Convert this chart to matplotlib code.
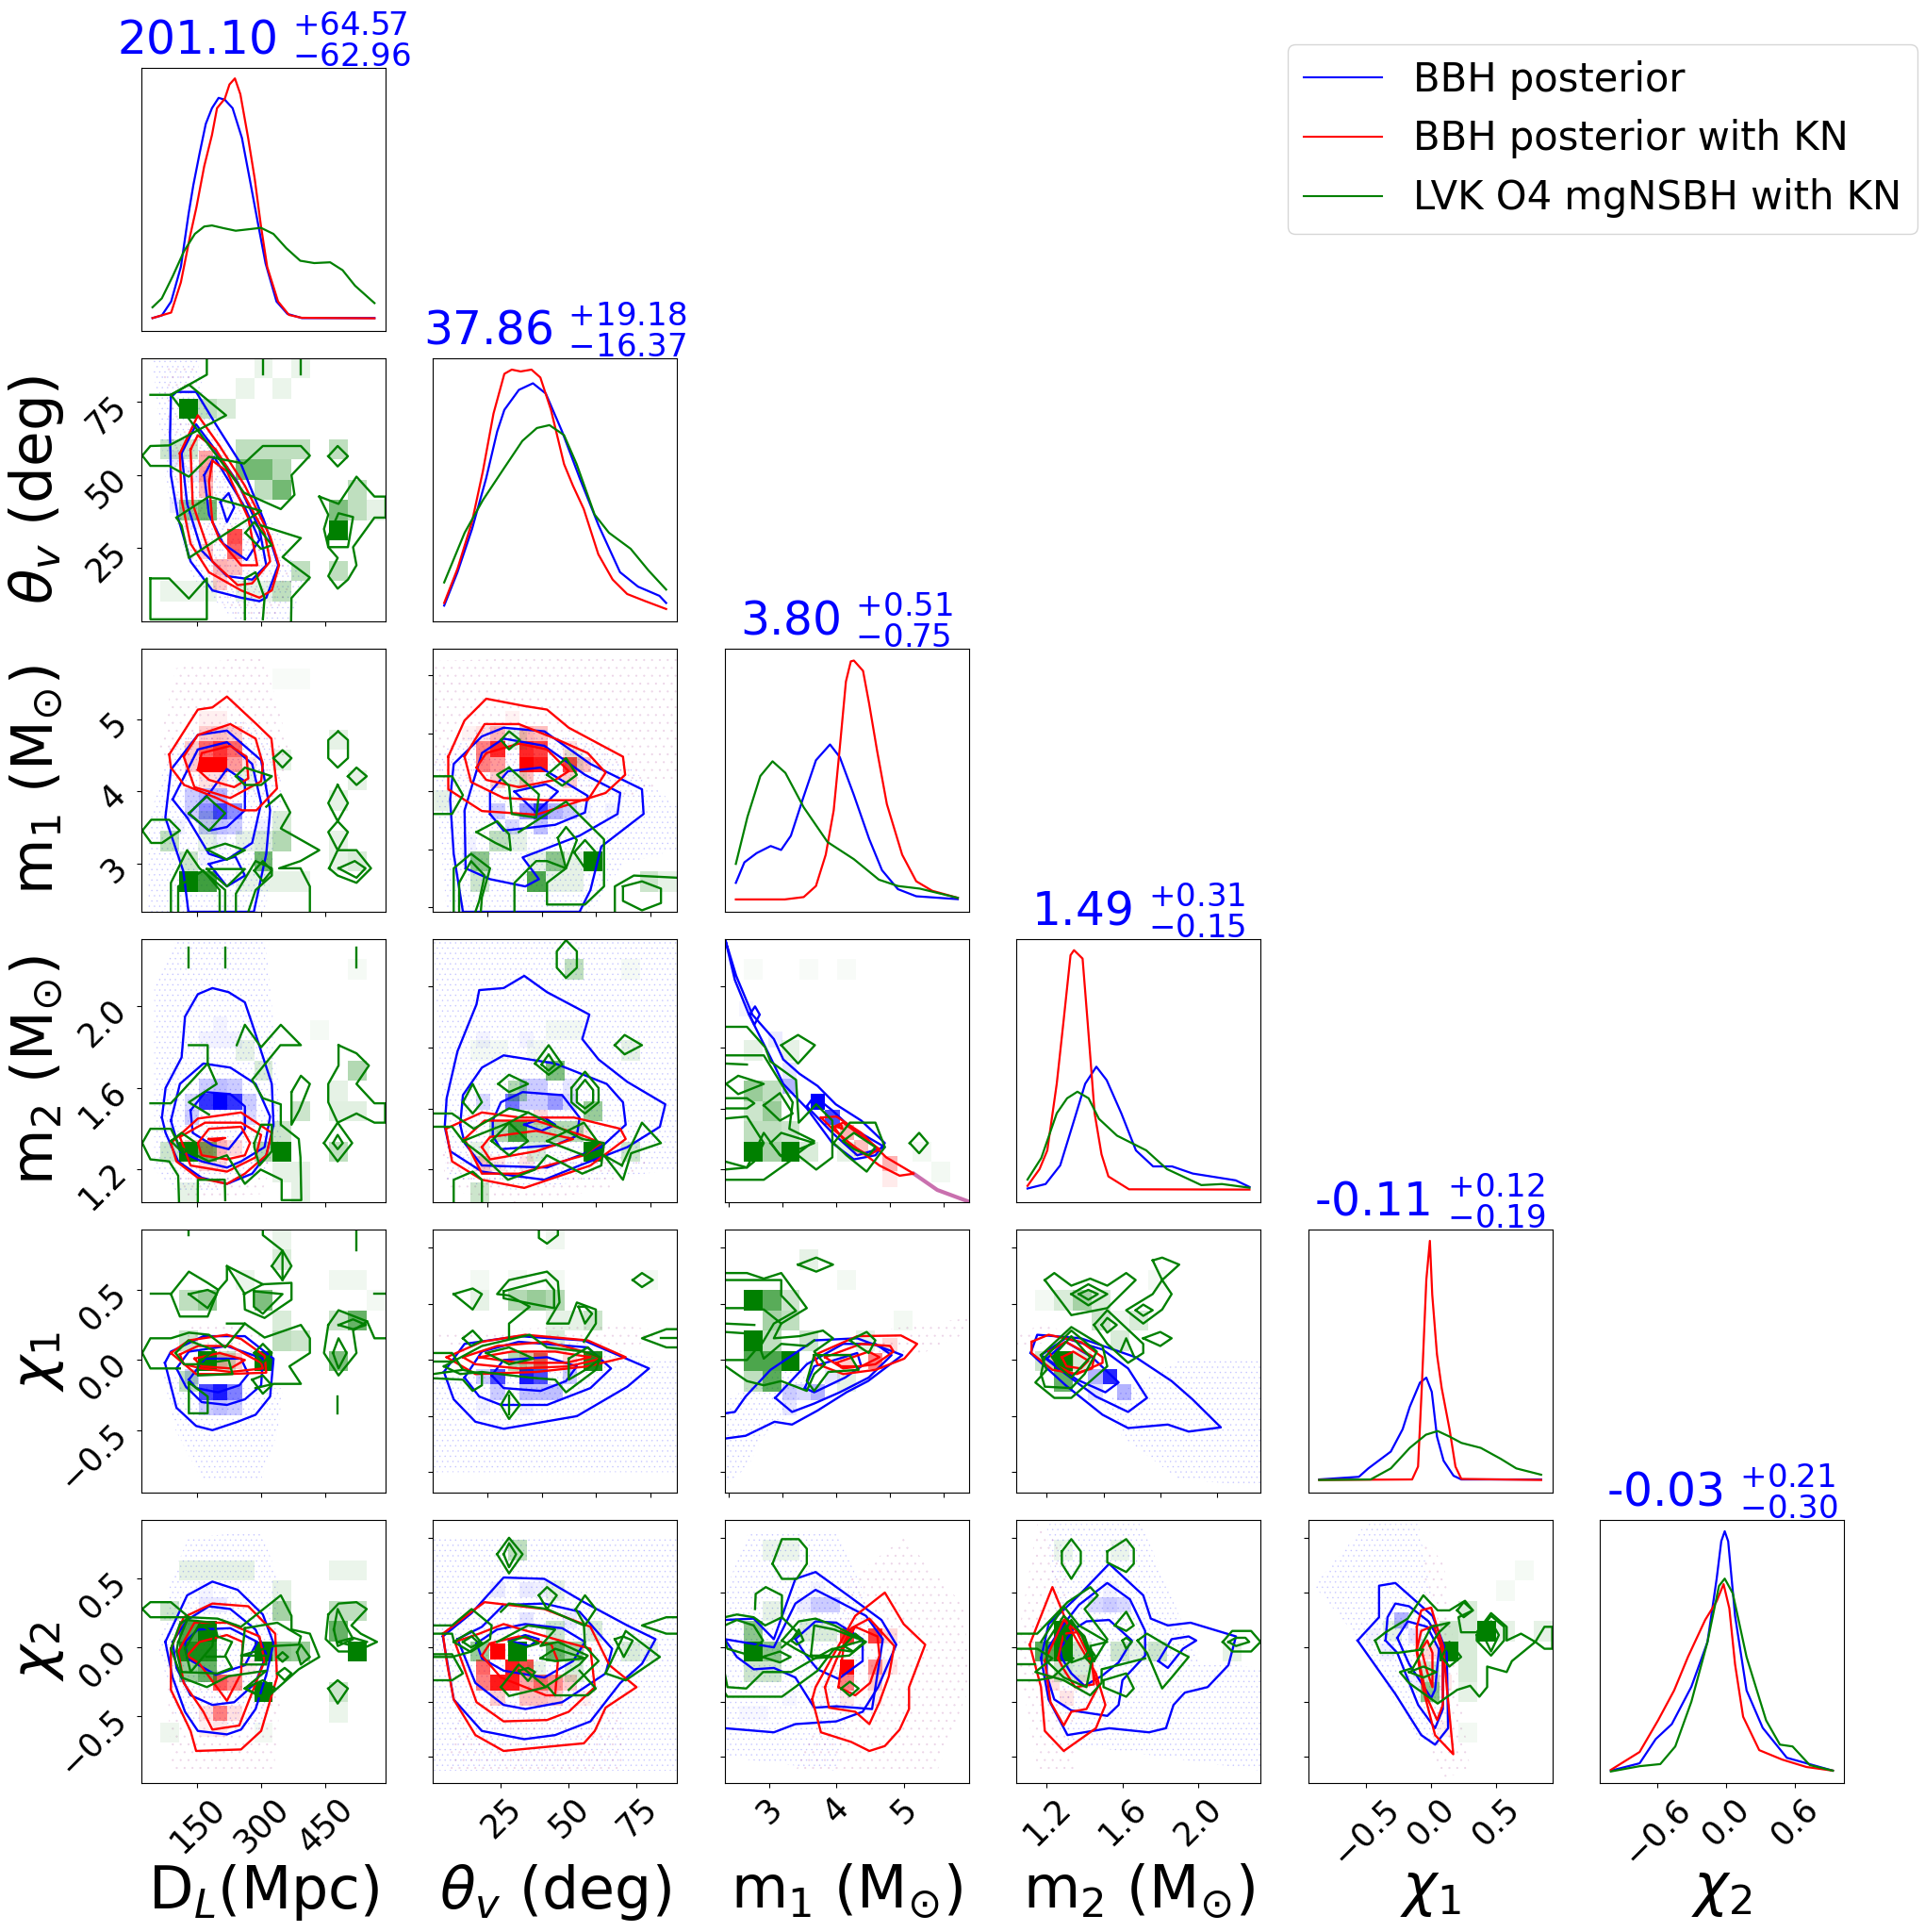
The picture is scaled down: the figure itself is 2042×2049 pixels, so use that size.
import matplotlib
matplotlib.use("Agg")
import matplotlib.pyplot as plt
from matplotlib.colors import LinearSegmentedColormap
from matplotlib.lines import Line2D

# axis ranges
dl_lim = (20, 591)
th_lim = (0, 90)
m1_lim = (2.34, 5.97)
m2_lim = (1.04, 2.33)
c1_lim = (-0.945, 0.93)
c2_lim = (-0.99, 0.93)

names = ["D$_L$(Mpc)", r"$\theta_v$ (deg)", r"m$_1$ (M$_{\odot}$)", r"m$_2$ (M$_{\odot}$)", r"$\chi_1$", r"$\chi_2$"]
titles = [("201.10", "64.57", "62.96"), ("37.86", "19.18", "16.37"), ("3.80", "0.51", "0.75"),
          ("1.49", "0.31", "0.15"), ("-0.11", "0.12", "0.19"), ("-0.03", "0.21", "0.30")]

# 1d curves (y is the height in the unlabelled density axis)
dl_x_b = [20,44,68,93,113,125,141,157,173,190,206,226,250,270,291,311,339,367,404,460,591]
dl_b = [4.9,5.9,11.2,24.4,44.7,55.4,67.4,78.7,84.7,88.6,87.9,84.7,73.4,57.8,41.1,25.6,11.2,6.5,4.9,4.9,4.9]
dl_x_r = [20,68,93,117,133,153,173,186,206,218,232,246,266,283,299,315,343,371,404,591]
dl_r = [4.9,7,18.5,36.3,47,62.6,74.5,84.7,88.3,93.7,96,90,73.4,57.8,39.9,24.4,11.2,6.1,5,4.8]
dl_x_g = [20,44,72,101,129,153,173,202,234,270,299,331,364,400,436,477,509,541,591]
dl_g = [9,12.4,20.8,30.3,36.9,39.7,40.1,39.1,38.1,38.7,39.2,36.9,31.5,26.7,25.8,26.1,23.1,17.2,10.6]

th_x_b = [0,5.4,11.3,17,21.5,24.4,30.3,36,41.2,47.8,55,62.6,71.3,78.6,87.3,90]
th_b = [6,18.7,35.1,54.3,72.2,80.4,88,90.5,86.6,72.2,54.3,36.5,18.7,13.2,9.7,7]
th_x_r = [0,5.4,11.3,15.7,20,24.4,27.4,31,35.4,39,43.3,48.6,52.2,56.6,62.5,68.3,74.2,81.5,90]
th_r = [7,20,37.9,57.1,79,94.1,95.7,95,95.7,92.7,80.4,59.8,51.6,42.7,25.5,15.9,10.4,7.7,4.7]
th_x_g = [0,8.3,15.7,24.4,31.7,37.6,42.7,48.6,53.7,61,66.8,75.6,82.9,90]
th_g = [14.8,33.7,46.1,58.4,68.6,73.5,74.6,70.8,59.8,40.6,33.7,27.6,19.3,12.1]

m1_x_b = [2.34,2.48,2.68,2.91,3.08,3.24,3.44,3.65,3.88,4.04,4.27,4.52,4.73,4.99,5.29,5.97]
m1_b = [11,18.8,22.3,25,23.5,28.9,43.2,57.6,63.6,58.8,44.4,27.7,15.8,8.6,5.9,4.8]
m1_x_r = [2.34,3.14,3.45,3.65,3.81,3.94,4.04,4.14,4.22,4.27,4.42,4.52,4.65,4.81,5.06,5.29,5.55,5.97]
m1_r = [4.7,4.7,5.6,9.8,21.7,38.5,62.4,87.5,95.2,95.5,91.6,79.1,61.2,40.9,21.7,11.6,8,5.3]
m1_x_g = [2.34,2.53,2.74,2.94,3.15,3.45,3.84,4.27,4.68,4.99,5.35,5.97]
m1_g = [18.2,36.1,51.6,57.2,52.8,39.7,26.5,20,12.2,9.8,8.8,5.3]

m2_x_b = [1.04,1.145,1.23,1.31,1.375,1.44,1.5,1.585,1.67,1.77,1.88,2.0,2.25,2.33]
m2_b = [5.2,6.9,14,31,45,51.5,46.4,33.8,19.7,13.6,13.6,10.9,8.3,5.8]
m2_x_r = [1.04,1.11,1.155,1.21,1.25,1.29,1.31,1.36,1.39,1.43,1.47,1.51,1.63,2.33]
m2_r = [6.2,12.6,19.7,45.1,69.2,93.9,95.8,92.6,67.9,33.8,18.2,9.8,4.9,4.8]
m2_x_g = [1.04,1.12,1.21,1.27,1.33,1.395,1.455,1.56,1.73,1.85,2.05,2.17,2.33]
m2_g = [8.6,16.8,33.8,39.5,42,39.5,31.7,25.3,19.7,12.6,6.5,6.9,5.5]

c1_x_b = [-.945,-.61,-.53,-.34,-.24,-.18,-.094,-.04,.006,.05,.106,.19,.256,.93]
c1_b = [5,6,9.2,15.6,24.1,32.6,41.8,43.7,38.3,21.3,12.1,6.4,5,5]
c1_x_r = [-.945,-.16,-.11,-.08,-.04,-.01,.01,.05,.09,.156,.206,.256,.93]
c1_r = [4.8,5,9.9,38.3,80.9,95.7,75.2,52.5,39.7,24.1,9.9,5.2,4.8]
c1_x_g = [-.945,-.51,-.34,-.18,-.044,.056,.156,.256,.42,.59,.72,.93]
c1_g = [4.8,5,9.2,17,22,23.4,21.3,18.9,17,12.8,9.2,6.8]

c2_x_b = [-1.0,-.75,-.61,-.47,-.3,-.16,-.08,-.04,-.01,.02,.08,.18,.32,.53,.93]
c2_b = [4.7,7.5,16.7,22.4,36.6,53.6,77.7,91.9,95.7,91.9,63.5,35.2,21,9.6,4.7]
c2_x_r = [-1.0,-.75,-.59,-.45,-.33,-.18,-.08,-.02,.03,.08,.15,.29,.49,.7,.93]
c2_r = [5,11.8,23.8,35.2,47.9,62,69.1,75.6,66.4,45.1,25.2,12.5,8.9,6.1,4.7]
c2_x_g = [-1.0,-.75,-.57,-.44,-.3,-.16,-.06,-.01,.06,.18,.35,.47,.58,.73,.93]
c2_g = [4.4,6.4,7.2,13.9,30.9,53.6,74.9,77.7,72.1,47.9,23.8,14.6,13.9,6.8,4.7]

# theta vs DL
thdl_cloud_b = [(45,90),(150,90),(170,75),(210,60),(300,40),(400,15),(370,0),(240,0),(140,15),(80,45)]
thdl_cloud_r = [(70,88),(140,88),(160,72),(280,40),(380,14),(340,1),(240,1),(140,18),(90,45)]
thdl_b = [
 [(89,76.7),(102,78.5),(148,78.5),(194,67.4),(253,53.8),(308,34),(340,19.2),(312,8.1),(296,6.9),(253,8.1),(186,10.6),(135,20.5),(106,35.3),(89,50),(87,63.7)],
 [(114,57.5),(148,67.4),(186,60),(245,47.6),(296,31.6),(312,19.2),(279,14.3),(220,15.5),(161,24.2),(127,40.2)],
 [(167,50),(190,56.3),(262,39),(296,27.9),(266,21),(211,26.6),(178,36.5)],
 [(205,40.8),(224,43.9),(237,39),(220,34)]]
thdl_r = [
 [(110,57.5),(152,70.5),(203,60),(262,46.4),(321,29.1),(342,19.2),(325,10.6),(296,8.1),(253,10.6),(178,16.8),(135,26.6),(114,41.5)],
 [(135,58.8),(152,63.7),(194,58.8),(253,45.2),(308,30.3),(321,20.5),(279,13),(245,12.4),(186,20.5),(140,40.2)],
 [(186,34),(178,47.6),(186,55),(220,51.3),(270,35.3),(291,19.2),(253,19.2),(203,27.9)]]
thdl_g = [
 [(89,77.5),(131,81),(218,70.5),(85,60.2),(41,60),(22,56.7),(41,53.2),(85,53.2),(131,49.5),(178,56.3),(260,54),(304,60),(393,60),(414,56.7),(371,50),(378,43.3),(346,38.4),(260,44),(215,53)],
 [(102,35.5),(178,42.7),(300,37.8),(220,30.3),(131,21.7),(114,32.8)],
 [(41,14.7),(85,14.7),(131,7.8),(173,14.7),(173,.7),(41,.7)],
 [(436,42.7),(481,40.2),(523,49.5),(565,42.7),(591,42.7),(591,35.5),(565,35.5),(515,25.4),(523,19.2),(503,14.3),(479,11.2),(457,15.5),(479,21.7),(457,25.4),(447,31.6),(457,36.5)],
 [(457,56.5),(479,60),(503,56.5),(479,53)],
 [(457,29),(481,37),(515,35.7),(503,25.4),(457,25.4)],
 [(263,30.3),(284,34),(325,26),(300,24.8)]]
thdl_g_open = [
 [(41,77.5),(89,77.5),(173,84.4),(173,90)],
 [(300,32.8),(393,28.5),(350,22),(414,15),(371,8),(370,0)],
 [(262,.7),(262,14.7),(287,16.8),(308,8),(304,.7)],
 [(304,90),(304,84.4)],[(392,90),(392,84.4)]]
thdl_cells_g = [(130,71,1),(479,28,1),(304,49.5,.55),(262,49.5,.55),(346,43.3,.55),(262,56.5,.25),(304,56.5,.25),(346,56.5,.25),(390,56.5,.25),
 (173,35,.55),(130,35,.4),(479,35,.5),(479,56.5,.25),(523,42,.25),(565,35,.1),(523,35,.25),(479,14,.25),(350,7,.25),(85,7,.08),(130,7,.08),(173,7,.08),
 (85,56,.2),(130,56,.2),(304,84,.08),(262,77,.08),(346,77,.08),(392,84,.08),(218,70,.15),(173,71,.25),(393,14,.25),(346,49.5,.3),(304,42.5,.25),(304,7,.1),(262,7,.1)]
thdl_cells_b = [(130,49,.08),(110,56,.08),(110,42,.08),(150,35,.08)]
thdl_cells_r = [(224,26,.6),(249,27,.7),(186,57,.35),(186,50,.4),(204,21,.3),(237,21,.25),(170,26,.2),(186,43,.25),(220,15,.2)]

# m1 vs DL
m1dl_cloud_b = [(34,2.34),(38,3.6),(85,4.6),(130,4.8),(250,5.0),(330,4.7),(350,4.0),(310,2.34)]
m1dl_cloud_r = [(60,4.6),(100,5.7),(300,5.9),(340,5.2),(370,4.4),(330,3.9),(100,4.0)]
m1dl_b = [
 [(130,2.34),(118,2.9),(76,3.64),(89,4.3),(152,4.78),(220,4.84),(300,4.43),(321,3.74),(312,3.14),(283,2.34)],
 [(93,3.89),(152,4.58),(220,4.68),(279,4.38),(300,3.84),(279,3.29),(220,3.06),(178,3.14),(127,3.64)],
 [(131,3.69),(182,4.0),(220,4.31),(262,4.14),(262,3.74),(220,3.51),(178,3.46)],
 [(178,3.0),(220,2.69),(262,2.84),(240,3.1)]]
m1dl_r = [
 [(85,4.51),(152,5.13),(186,5.16),(220,5.31),(289,4.93),(324,4.73),(337,4.04),(289,3.74),(255,3.74),(196,3.91),(120,4.09),(89,4.33)],
 [(119,4.48),(152,4.78),(228,4.93),(287,4.73),(304,4.38),(300,4.14),(228,3.91),(144,4.06)],
 [(152,4.3),(161,4.53),(228,4.63),(266,4.48),(270,4.18),(237,4.06),(178,4.16)]]
m1dl_g = [
 [(22,3.46),(43,3.61),(85,3.61),(110,3.46),(68,3.29),(43,3.29)],
 [(131,3.7),(173,3.93),(216,3.7),(178,3.46)],
 [(241,4.21),(262,4.33),(325,4.21),(300,4.09),(262,4.09)],
 [(329,4.46),(350,4.57),(371,4.46),(350,4.33)],
 [(480,4.83),(503,4.71),(503,4.46),(479,4.33),(457,4.46),(457,4.71)],
 [(503,4.21),(523,4.33),(547,4.21),(523,4.09)],
 [(479,4.09),(503,3.84),(479,3.59),(503,3.44),(479,3.19),(457,3.44),(479,3.59),(457,3.84)],
 [(459,2.94),(479,3.19),(523,3.19),(557,2.94),(523,2.74),(479,2.84)],
 [(481,2.94),(519,3.04),(544,2.94),(523,2.81)],
 [(173,3.2),(216,3.28),(262,3.19),(220,3.06)],
 [(173,2.93),(262,2.93),(220,2.69)],
 [(284,2.91),(304,3.04),(325,2.91),(304,2.76)]]
m1dl_g_open = [
 [(312,3.79),(346,3.96),(368,3.71),(346,3.49),(436,3.19),(392,3.04),(342,2.94),(392,2.94),(414,2.69),(414,2.34)],
 [(89,2.34),(89,2.74),(127,3.19),(156,2.94),(216,2.64),(216,2.34)],
 [(106,2.34),(106,2.69),(165,2.91),(203,2.64),(203,2.34)],
 [(241,2.34),(241,2.59),(287,3.04),(325,2.94),(325,2.84),(287,2.64),(270,2.34)]]
m1dl_cells_g = [(127,2.65,1),(173,2.65,.75),(127,2.93,.2),(304,2.93,.55),(262,2.65,.1),(304,2.65,.1),(350,2.65,.1),(392,2.65,.1),(350,3.2,.3),(304,3.2,.15),(262,3.2,.1),(173,3.2,.1),
 (479,4.6,.1),(479,3.9,.1),(479,3.4,.1),(523,2.93,.15),(479,2.93,.1),(523,4.2,.1),(85,3.45,.25),(350,3.7,.15),(350,4.45,.1),(173,3.7,.1),(262,4.15,.1),(350,5.5,.03),(392,5.5,.03)]
m1dl_cells_r = [(203,4.28,1),(220,4.48,.8),(186,4.48,.6),(250,4.48,.6),(170,4.3,.45),(250,4.28,.4),(220,4.28,.85),(186,4.28,.7),(220,4.7,.25),(186,4.7,.2),(250,4.7,.2),(152,4.5,.2),(152,4.28,.2),(280,4.4,.1),(220,4.95,.06),(186,4.95,.06),(186,4.1,.12),(220,4.1,.12)]
m1dl_cells_b = [(220,3.64,.75),(186,3.65,.45),(253,3.64,.45),(186,3.45,.2),(220,3.45,.25),(150,3.65,.2),(253,3.45,.2),(290,3.6,.06),(120,3.6,.05),(220,3.2,.05),(186,3.0,.05),(220,3.84,.3),(186,3.84,.3),(150,3.84,.2)]

# theta-m1
m1th_cloud_b = [(5,2.34),(0,4.5),(20,4.9),(60,4.7),(90,3.8),(90,3.2),(70,3.0),(58,2.34)]
m1th_cloud_r = [(0,5.8),(90,5.9),(90,4.2),(70,3.9),(0,4.2)]
m1th_b = [
 [(11,2.34),(7.6,3.14),(6.3,3.89),(7.6,4.38),(18,4.76),(26,4.88),(41,4.83),(58,4.38),(77,4.03),(77.6,3.69),(62,3.24),(58,2.64),(56,2.49),(54,2.34)],
 [(12,2.94),(11.6,3.74),(18,4.53),(26,4.73),(41,4.63),(56,4.23),(69,3.98),(68,3.69),(54,3.39),(33,3.09),(39,2.79),(34,2.69),(21,2.79)],
 [(21,3.69),(21,3.99),(27.6,4.28),(39.6,4.33),(57,3.94),(56,3.71),(45,3.54),(26,3.46)],
 [(30,4.0),(41.6,4.1),(46,4.0),(38,3.71)]]
m1th_r = [
 [(5.6,4.48),(11.6,4.98),(19.6,5.28),(33.6,5.18),(42,5.13),(50,4.88),(70,4.48),(70.8,4.23),(63.6,3.98),(38,3.68),(18,3.73),(5.6,4.03)],
 [(11.6,4.48),(19,4.93),(31.6,4.93),(45,4.73),(57,4.53),(63.6,4.26),(57,3.88),(41,3.88),(26,3.91),(14,4.13)],
 [(16,4.33),(19.6,4.53),(31.6,4.66),(42,4.58),(50,4.28),(45,4.16),(31.6,4.06),(19.6,4.16)]]
m1th_g = [
 [(25,4.71),(28,4.83),(32,4.71),(28,4.58)],
 [(42,4.23),(49,4.46),(53,4.23),(47.6,4.08)],
 [(16,3.44),(23.6,3.59),(28,3.41),(28.6,3.19),(23,3.29)],
 [(70,2.69),(77,2.76),(84,2.66),(84,2.46),(77,2.36),(70,2.49)],
 [(52,3.16),(56,3.33),(60,3.16),(56,2.94)],
 [(46,3.36),(49,3.51),(53,3.33),(49,2.94)],
 [(28,4.33),(39,3.96),(38,3.64),(29,3.69),(28,4.08),(23.6,4.23)]]
m1th_g_open = [
 [(0,4.21),(7,4.21),(11,3.95),(7,3.69),(0,3.69)],
 [(31.6,3.44),(49,3.86),(63,3.34),(63,2.69),(56,2.44),(42,2.44),(42,2.74),(49,2.94),(42,3.04),(38,3.04),(30,2.74),(30,2.34)],
 [(7.6,2.34),(7.6,2.94),(14,3.14),(21,2.94),(18,2.54),(17.6,2.34)],
 [(9.6,2.34),(9.6,2.74),(14,3.04),(19,2.84),(17,2.49),(15.6,2.34)],
 [(67,2.34),(67,2.69),(74,2.84),(90,2.81)]]
m1th_cells_g = [(56,3.15,1),(35,2.67,.7),(14,2.9,.45),(42,3.15,.45),(14,2.65,.2),(35,2.9,.1),(42,2.65,.1),(49,2.65,.1),(49,2.9,.1),(77,2.65,.2),(84,2.65,.1),(21,3.4,.25),(28,3.4,.1),(0,3.95,.1),(28,4.1,.1),(49,4.3,.1),(28,4.7,.1)]
m1th_cells_r = [(37,4.28,1),(26,4.5,.85),(32,4.5,.85),(42,4.5,.75),(18,4.33,.5),(18,4.5,.5),(26,4.3,.4),(32,4.3,.5),(42,4.3,.9),(37,4.45,.85),(48,4.45,.4),(48,4.3,.35),(55,4.3,.25),(26,4.7,.3),(32,4.7,.3),(40,4.7,.25),(18,4.7,.12),(50,4.65,.12),(26,4.1,.2),(37,4.1,.25),(48,4.1,.2),(14,4.9,.05),(30,5.0,.05)]
m1th_cells_b = [(40,3.69,.75),(33,3.69,.4),(45,3.69,.3),(51,3.69,.2),(22,3.69,.2),(30,3.45,.15),(40,3.45,.25),(58,3.69,.05),(65,3.69,.05),(14,3.3,.05),(14,3.0,.05)]

# m2-DL
m2dl_cloud_b = [(50,1.2),(50,2.1),(100,2.33),(310,2.33),(330,1.9),(350,1.3),(310,1.2),(200,1.1),(100,1.1)]
m2dl_cloud_r = [(100,1.2),(330,1.25),(300,1.08),(130,1.06)]
m2dl_b = [
 [(68,1.455),(76.5,1.6),(114,1.75),(122,1.95),(152,2.06),(186,2.09),(224,2.07),(262,2.02),(283,1.89),(300,1.78),(325,1.62),(329,1.42),(312,1.27),(279,1.18),(220,1.13),(161,1.16),(106,1.24),(76.5,1.38)],
 [(89,1.44),(110,1.62),(165,1.72),(228,1.7),(287,1.62),(321,1.46),(308,1.31),(253,1.24),(220,1.21),(161,1.24),(110,1.29)],
 [(135,1.49),(169,1.58),(228,1.57),(262,1.51),(262,1.4),(224,1.3),(186,1.32),(140,1.38)]]
m2dl_r = [
 [(89,1.33),(152,1.45),(253,1.48),(325,1.38),(312,1.27),(262,1.18),(220,1.13),(152,1.16),(102,1.24)],
 [(110,1.36),(169,1.43),(253,1.43),(300,1.37),(287,1.26),(220,1.19),(135,1.22)],
 [(152,1.33),(178,1.40),(253,1.41),(274,1.33),(262,1.27),(220,1.25),(161,1.27)],
 [(178,1.35),(216,1.355),(192,1.34)]]
m2dl_g = [
 [(284,1.33),(300,1.42),(325,1.42),(325,1.29),(296,1.22),(284,1.31)],
 [(481,1.81),(523,1.77),(552,1.71),(523,1.62),(565,1.525),(590,1.525),(590,1.43),(565,1.43),(523,1.475),(479,1.43),(457,1.53),(457,1.62),(481,1.71)],
 [(447,1.33),(479,1.43),(513,1.33),(479,1.24)],
 [(468,1.33),(479,1.37),(491,1.33),(479,1.3)],
 [(371,1.58),(393,1.66),(414,1.62),(389,1.49),(371,1.42)],
 [(89,1.34),(114,1.38),(148,1.33),(118,1.28)]]
m2dl_g_open = [
 [(130,2.29),(130,2.19)],[(217,2.29),(217,2.19)],[(523,2.29),(523,2.19)],
 [(243,1.81),(262,1.91),(300,1.8),(346,1.91),(393,1.81),(345,1.81),(279,1.64),(304,1.55),(346,1.52),(346,1.42),(388,1.35),(392,1.26),(394,1.05),(348,1.05),(348,1.15),(299,1.2),(262,1.13),(220,1.27),(178,1.24),(110,1.31),(89,1.4),(41,1.4),(22,1.33),(41,1.25),(85,1.24),(106,1.17),(108,1.04)],
 [(131,1.81),(175,1.81),(175,1.72),(196,1.62),(131,1.53),(178,1.47)],
 [(41,1.525),(89,1.525),(175,1.72)],
 [(152,1.04),(152,1.15),(215,1.15),(216,1.05)]]
m2dl_cells_g = [(131,1.33,1),(350,1.33,1),(523,1.71,.3),(479,1.6,.1),(479,1.5,.12),(523,1.5,.12),(479,1.33,.25),(350,1.4,.2),(392,1.5,.2),(300,1.33,.3),(262,1.81,.1),(300,1.7,.15),(131,1.24,.3),(175,1.24,.3),(175,1.33,.2),(85,1.33,.2),(348,1.2,.1),(392,1.2,.1),(392,1.1,.1),(131,1.1,.1),(440,1.9,.04),(523,2.2,.04)]
m2dl_cells_b = [(197,1.53,1),(163,1.53,.8),(230,1.53,.8),(197,1.64,.25),(163,1.64,.2),(230,1.64,.2),(130,1.45,.2),(260,1.45,.15),(130,1.53,.15),(260,1.53,.2),(197,1.8,.05),(163,1.8,.05),(230,1.8,.05),(197,1.95,.04)]
m2dl_cells_r = [(186,1.33,.4),(220,1.33,.3),(150,1.33,.2),(253,1.33,.15),(186,1.25,.15),(220,1.25,.15)]

# m2-theta
m2th_cloud_b = [(0,2.33),(90,2.33),(90,1.2),(60,1.15),(30,1.1),(5,1.15)]
m2th_cloud_r = [(3,1.3),(80,1.25),(65,1.1),(30,1.04),(5,1.1)]
m2th_b = [
 [(4.3,1.41),(5,1.55),(9,1.78),(16,2.01),(17,2.08),(26,2.09),(33.6,2.15),(42,2.07),(57.6,1.96),(55,1.84),(61,1.74),(71.6,1.63),(85.6,1.52),(83.6,1.41),(71.6,1.31),(54,1.22),(41,1.15),(18,1.19),(6.3,1.29)],
 [(10,1.42),(11,1.565),(18,1.7),(26,1.76),(45,1.72),(64,1.62),(70,1.53),(71,1.42),(62,1.31),(42,1.21),(18,1.22),(11.6,1.33)],
 [(22,1.44),(25,1.53),(33,1.58),(47.6,1.565),(54,1.455),(53,1.365),(45,1.32),(25,1.3),(22,1.365)],
 [(33.6,1.42),(41,1.455),(45,1.42),(40,1.39)]]
m2th_r = [
 [(4.7,1.4),(18,1.48),(32,1.455),(52,1.455),(69,1.4),(71,1.35),(58,1.22),(33.6,1.11),(18,1.15),(7,1.24)],
 [(11.6,1.35),(19,1.44),(38,1.44),(55.6,1.365),(62,1.33),(55.6,1.27),(31.6,1.18),(18,1.18)],
 [(18,1.31),(21,1.36),(38,1.39),(51.6,1.35),(38,1.29),(21,1.25)]]
m2th_g = [
 [(49,2.325),(53,2.27),(53,2.19),(49,2.14),(45.6,2.19),(45.6,2.27)],
 [(67,1.81),(70.6,1.86),(77,1.81),(70.6,1.765)],
 [(37.6,1.72),(42.6,1.81),(47.6,1.715),(42.6,1.665)],
 [(40,1.715),(42.6,1.765),(45,1.715),(42.6,1.685)],
 [(24,1.62),(28,1.665),(35,1.62),(28,1.58)],
 [(11,1.53),(14.6,1.62),(18,1.53),(14.6,1.475)],
 [(51,1.6),(56,1.68),(61,1.6),(61,1.53),(56,1.475),(51,1.53)],
 [(53,1.59),(56,1.64),(59,1.59),(59,1.53),(56,1.5),(53,1.53)],
 [(11,1.34),(28,1.43),(35,1.48),(55,1.35),(63,1.33),(62,1.22),(55,1.18),(42,1.27),(37.6,1.2),(27.6,1.15),(18,1.27)],
 [(69.6,1.22),(77,1.43),(84,1.33),(73,1.28),(70,1.15),(63,1.27)],
 [(21.6,1.34),(28,1.43),(35,1.34),(28,1.27)],
 [(42,1.34),(55.6,1.43),(61,1.33),(55.6,1.27)]]
m2th_g_open = [
 [(7.6,1.04),(7.6,1.15),(14.6,1.19),(18,1.15),(18,1.04)],
 [(0,1.475),(7,1.475),(15,1.4),(28,1.5),(35,1.48)],
 [(0,1.41),(7,1.41),(11,1.34)]]
m2th_cells_g = [(28,1.35,.75),(56,1.33,1),(42.6,1.71,.5),(35,1.35,.3),(42,1.35,.3),(49,1.35,.3),(21,1.35,.3),(14,1.33,.1),(56,1.53,.4),(28,1.6,.3),(35,1.25,.15),(56,1.25,.2),(49,2.2,.25),(14,1.12,.2),(70,1.8,.1),(70,1.25,.2),(49,1.9,.05),(42,1.9,.05),(21,1.8,.05),(14,1.8,.05),(35,1.8,.05),(70,2.2,.04)]
m2th_cells_b = [(27,1.54,.55),(45,1.55,.4),(33,1.64,.2),(40,1.64,.2),(20,1.55,.15),(52,1.64,.1),(33,1.55,.2),(38,1.55,.2),(52,1.55,.15),(33,1.8,.04),(20,1.8,.04)]
m2th_cells_r = [(18,1.24,.25),(42,1.42,.15),(55,1.38,.1),(60,1.33,.12),(25,1.2,.1),(35,1.2,.1)]

# m2-m1
m2m1_tail = [(5.15,1.18),(5.5,1.1),(5.95,1.045)]
m2m1_b = [
 [(2.35,2.325),(2.51,2.15),(2.75,1.96),(3.07,1.84),(3.21,1.74),(3.45,1.67),(3.72,1.61),(3.99,1.52),(4.37,1.44),(4.72,1.33),(4.58,1.27),(4.26,1.25),(3.94,1.33),(3.56,1.5),(3.21,1.62),(3.02,1.75),(2.7,1.96),(2.49,2.13)],
 [(2.71,1.96),(2.79,2.0),(2.86,1.96),(2.78,1.91)],
 [(3.56,1.51),(3.67,1.56),(3.94,1.49),(4.2,1.41),(4.72,1.31),(4.31,1.27),(3.94,1.38)]]
m2m1_r = [
 [(3.77,1.455),(4.0,1.46),(4.37,1.38),(4.74,1.26),(5.15,1.18),(4.94,1.17),(4.64,1.22),(4.2,1.33),(3.94,1.4)],
 [(3.96,1.41),(4.1,1.43),(4.64,1.3),(4.48,1.27),(4.15,1.33)],
 [(4.0,1.41),(4.07,1.42),(4.09,1.4)]]
m2m1_g = [
 [(2.34,1.9),(2.67,1.9),(2.94,1.8),(3.02,1.73),(3.4,1.64),(3.44,1.43),(3.7,1.52),(3.94,1.44),(3.94,1.26),(3.7,1.2),(3.43,1.27),(2.92,1.15),(2.34,1.15)],
 [(2.34,1.76),(2.92,1.76),(3.35,1.53),(3.3,1.40),(3.67,1.34),(3.43,1.28),(3.16,1.27),(2.92,1.38),(2.67,1.21),(2.34,1.2)],
 [(2.34,1.45),(2.67,1.46),(2.92,1.33),(2.78,1.24),(2.67,1.21),(2.34,1.24)],
 [(2.36,1.62),(2.54,1.66),(2.92,1.62),(2.54,1.57)],
 [(2.34,1.55),(2.67,1.55),(2.78,1.525),(2.67,1.5),(2.34,1.5)],
 [(2.92,1.515),(3.16,1.575),(3.35,1.475),(3.16,1.44)],
 [(3.18,1.81),(3.43,1.86),(3.68,1.81),(3.43,1.72)],
 [(3.02,1.33),(3.18,1.38),(3.67,1.33),(3.18,1.265)],
 [(3.96,1.33),(4.2,1.43),(4.58,1.43),(4.72,1.31),(4.45,1.19),(4.15,1.27)],
 [(4.1,1.34),(4.26,1.38),(4.58,1.31),(4.48,1.27),(4.26,1.3)],
 [(5.09,1.33),(5.23,1.38),(5.36,1.33),(5.23,1.28)]]
m2m1_g_open = [[(2.34,1.72),(2.67,1.715)]]
m2m1_cells_g = [(3.18,1.33,1),(2.67,1.33,.7),(2.67,1.62,.4),(3.07,1.53,.4),(2.92,1.62,.25),(2.67,1.24,.35),(2.67,1.43,.25),(3.43,1.33,.6),(2.92,1.43,.25),(2.92,1.33,.2),(2.92,1.24,.15),(2.67,1.53,.2),(3.18,1.43,.2),(3.18,1.24,.15),(3.7,1.33,.15),(3.43,1.24,.1),(2.67,1.8,.1),(3.43,1.8,.1),(4.2,1.24,.1),(5.3,1.33,.05),(5.5,1.2,.05),(2.67,2.2,.03),(3.7,2.2,.03),(4.2,2.2,.03)]
m2m1_cells_b = [(3.7,1.53,1),(3.4,1.63,.3),(3.99,1.46,.7),(3.2,1.72,.1),(3.0,1.8,.08),(2.7,2.0,.04)]
m2m1_cells_r = [(4.7,1.23,.3),(4.05,1.41,.3),(4.3,1.33,.25),(4.9,1.18,.08)]

# chi1-DL
c1dl_cloud_b = [(70,-.1),(100,-.5),(160,-.85),(300,-.85),(340,-.5),(350,-.2),(200,-.2)]
c1dl_cloud_r = [(130,.25),(280,.25),(330,.05),(90,.05)]
c1dl_b = [
 [(75,-.02),(89,.06),(165,.17),(262,.17),(329,.01),(321,-.26),(287,-.39),(245,-.44),(186,-.5),(148,-.47),(102,-.34)],
 [(102,-.06),(131,.06),(220,.1),(304,.01),(300,-.18),(262,-.28),(220,-.32),(161,-.3),(124,-.19)],
 [(131,-.14),(169,.01),(253,.01),(270,-.1),(249,-.18),(199,-.23),(148,-.2)]]
c1dl_r = [
 [(89,.05),(131,.14),(220,.18),(253,.15),(308,.03),(312,-.09),(220,-.1),(148,-.1)],
 [(110,.04),(152,.1),(228,.1),(300,-.02),(304,-.06),(228,-.085),(161,-.06),(119,-.03)],
 [(144,.01),(203,.05),(262,0),(228,-.06),(161,-.045)]]
c1dl_g = [
 [(89,.47),(131,.63),(175,.55),(200,.5),(175,.31),(110,.31)],
 [(131,.47),(175,.5),(196,.47),(175,.37)],
 [(260,.47),(304,.54),(371,.55),(371,.43),(308,.3),(262,.36)],
 [(283,.49),(350,.47),(304,.33),(283,.38)],
 [(325,.67),(350,.78),(371,.67),(350,.57)],
 [(457,.25),(481,.355),(548,.275),(515,.21),(523,.05),(481,-.11),(447,.05)],
 [(481,.25),(515,.29),(545,.25),(515,.22)],
 [(468,.05),(481,.155),(500,.05),(481,-.06)],
 [(131,-.16),(175,-.26),(175,-.38),(131,-.38)],
 [(284,.05),(304,.115),(325,.05),(304,-.02)],
 [(279,-.14),(304,-.11),(325,-.18),(304,-.24)],
 [(152,-.03),(224,0),(233,-.1),(152,-.11)],
 [(100,.05),(130,.14),(190,.07),(150,-.03),(120,-.03)]]
c1dl_g_open = [
 [(41,.47),(89,.47)],
 [(200,.5),(220,.57),(220,.67),(262,.47)],[(220,.67),(304,.54)],
 [(304,.93),(304,.89),(350,.78),(350,.57)],
 [(220,.26),(262,.26),(308,.16),(393,.25),(414,.155),(414,.05),(366,-.045),(393,-.17),(329,-.17),(287,-.2)],
 [(548,.275),(565,.155),(590,.155)],[(565,.47),(590,.47)],
 [(479,-.26),(479,-.38)],[(130,.93),(130,.89)],[(523,.93),(523,.78)],
 [(22,.05),(41,.155),(89,.155),(131,.195),(178,.18),(216,.09),(262,.26)],
 [(22,.05),(41,-.06),(110,-.06)]]
c1dl_cells_g = [(304,.05,1),(175,-.07,1),(479,.05,.5),(523,.25,.6),(304,.42,.5),(175,.47,.4),(371,.1,.25),(131,.47,.25),(131,.1,.2),(479,.25,.2),(350,.67,.15),(350,.85,.08),(262,.6,.08),(479,.6,.06),(523,.6,.06),(565,.4,.05),(414,.15,.2),(350,.25,.15),(131,-.1,.25),(219,.0,.2)]
c1dl_cells_b = [(197,-.18,.9),(163,-.18,.7),(230,-.18,.5),(197,-.3,.25),(163,-.3,.2),(230,-.3,.2),(130,-.1,.2)]
c1dl_cells_r = [(197,-.02,.3),(230,-.02,.2),(163,-.02,.2)]

# chi1-theta
c1th_cloud_b = [(0,-.1),(0,-.8),(90,-.8),(90,0),(65,.05)]
c1th_cloud_r = [(0,.2),(70,.25),(85,.2),(70,.05),(10,.05)]
c1th_b = [
 [(4,-.085),(11.6,.115),(31.6,.17),(55.6,.14),(79.6,-.06),(71.6,-.19),(53,-.4),(26,-.49),(15.6,-.44),(7.6,-.28)],
 [(11.6,-.125),(18,.06),(31.6,.13),(57,.09),(65.6,-.06),(58,-.2),(42,-.32),(25,-.32),(17,-.26)],
 [(21.6,-.11),(26,0),(42,.02),(53,-.045),(49,-.15),(39.6,-.22),(26,-.2)]]
c1th_r = [
 [(5,.02),(18,.13),(34,.18),(57,.14),(71,.02),(57,-.045),(38,-.085),(15.6,-.1)],
 [(11,.02),(23.6,.1),(42,.13),(55.6,.06),(62,.01),(50,-.045),(31.6,-.06),(15.6,-.03)],
 [(17,.02),(29,.06),(45,.06),(58,.02),(49,-.02),(31.6,-.02)]]
c1th_g = [
 [(26,.49),(41.6,.57),(44.6,.5),(44.6,.37),(26,.44)],
 [(7.6,.47),(14.6,.51),(18,.47),(14.6,.36)],
 [(73.6,.57),(77,.62),(81,.57),(77,.52)],
 [(53.6,.38),(56,.38),(58.6,.33),(56,.26)],
 [(25,-.32),(28,-.22),(32,-.32),(28,-.42)],
 [(4,-.045),(18,.1),(35.6,.18),(42,.09),(55.6,.06),(61.6,.02),(60,-.07),(49,-.23),(45,-.14),(35.6,-.125),(18,-.085),(10,-.1)],
 [(19.6,.05),(28,.09),(37,.01),(28,-.03)],
 [(50,.01),(57,.09),(61.6,.01),(57,-.06),(50,-.14)],
 [(11,.155),(14.6,.21),(18,.14),(14,.1)]]
c1th_g_open = [
 [(28,.155),(28,.26),(35.6,.38),(28,.46),(23.6,.47),(28,.57),(42,.63),(46,.56),(46.6,.41),(42,.26),(50,.26),(53,.41),(60,.36),(60,.26),(55.6,.13)],
 [(39,.93),(39,.87),(42,.83),(46,.89),(46,.93)],
 [(90,.09),(86,.09),(77,.155),(86,.22),(90,.22)],[(84,.155),(90,.155)],
 [(0,.05),(7,.05),(11,-.07),(18,-.1),(18,-.18),(14.6,-.22),(11,-.14),(0,-.13)],
 [(0,-.01),(7,-.01)],[(0,-.1),(11,-.07)],[(28,-.25),(28,-.39)]]
c1th_cells_g = [(56,.05,.9),(35,.45,.4),(28,.45,.3),(42,.45,.3),(14,.45,.1),(42,.1,.15),(28,.05,.3),(35,.05,.15),(49,.25,.1),(42,.3,.1),(56,.33,.2),(28,.6,.05),(42,.6,.05),(77,.57,.05),(14,.6,.05),(42,.85,.06)]
c1th_cells_b = [(32,-.17,.9),(25,-.17,.7),(40,-.17,.7),(45,-.28,.25),(32,-.28,.25),(25,-.28,.2),(38,-.28,.25),(52,-.17,.2),(18,-.17,.2),(32,-.38,.05),(18,-.38,.05)]
c1th_cells_r = [(42,-.03,.7),(32,-.02,.2),(52,-.02,.15)]

# chi1-m1
c1m1_cloud_b = [(2.34,-.3),(3,-.1),(3.6,0),(3.4,-.35),(2.9,-.55),(2.7,-.75),(2.34,-.9)]
c1m1_cloud_r = [(4.5,.2),(5.2,.25),(5.97,.3),(5.97,.2),(5.2,.03),(4.5,0)]
c1m1_b = [
 [(2.34,-.38),(2.49,-.37),(2.65,-.26),(3.02,-.07),(3.67,.14),(4.31,.155),(4.98,.035),(4.47,-.15),(4.15,-.23),(3.72,-.36),(3.34,-.46),(3.08,-.44),(2.65,-.54),(2.34,-.56)],
 [(3.09,-.27),(3.56,-.03),(4.1,.115),(4.58,.115),(4.82,.035),(4.48,-.125),(4.05,-.23),(3.67,-.31),(3.34,-.37)],
 [(3.53,-.2),(3.67,-.045),(4.31,.05),(4.37,-.045),(4.13,-.125),(3.67,-.23)]]
c1m1_r = [
 [(3.67,.035),(4.31,.17),(4.96,.175),(5.2,.115),(5.01,.01),(4.58,-.07),(4.1,-.1),(3.72,-.03)],
 [(3.83,.02),(4.37,.115),(4.8,.1),(4.85,.06),(4.58,-.03),(4.1,-.06)],
 [(4.0,-.02),(4.48,.06),(4.64,.02),(4.37,-.045),(4.07,-.045)]]
c1m1_g = [
 [(2.34,.62),(2.67,.62),(2.92,.58),(3.18,.62),(3.56,.37),(3.18,.26),(3.07,.155),(3.45,.17),(3.8,.21),(3.95,.155),(3.67,.06),(3.83,-.03),(3.67,-.1),(3.56,-.22),(3.18,-.15),(2.92,-.18),(2.67,-.15),(2.34,-.04)],
 [(3.67,.035),(4.2,.035),(4.33,-.07),(3.88,-.085),(3.67,-.22),(3.56,-.15)],
 [(4.2,.14),(4.45,.2),(4.58,.14),(4.48,.05)],
 [(3.43,.68),(3.7,.73),(3.95,.68),(3.7,.63)]]
c1m1_g_open = [
 [(2.34,.57),(2.67,.57),(3.18,.57),(3.18,.46),(3.4,.35),(3.07,.26),(2.86,.09),(2.92,.01),(3.18,.115),(3.56,.1),(3.67,.14)],
 [(2.34,.37),(2.67,.37),(2.92,.36),(3.18,.26)],
 [(2.34,.26),(2.78,.25)],
 [(2.34,.2),(2.65,.19),(2.85,.1),(2.67,0),(2.34,0)]]
c1m1_cells_g = [(2.67,.46,1),(2.92,.46,.65),(2.67,.155,1),(2.67,.03,.7),(3.45,.03,1),(3.15,.01,.7),(3.2,.3,.25),(2.92,.3,.35),(3.15,-.1,.65),(2.92,.1,.25),(2.67,-.1,.25),(3.2,.46,.2),(3.7,.68,.1),(4.2,.55,.05),(5.0,.3,.05),(4.45,.2,.1),(3.7,.1,.2),(4.1,-.1,.1)]
c1m1_cells_b = [(3.8,-.18,.3),(3.4,-.27,.2),(3.6,-.27,.15),(3.2,-.3,.1),(4.0,-.15,.1)]
c1m1_cells_r = [(4.48,.01,.5),(4.2,.02,.2),(4.7,.05,.15)]

# chi1-m2
c1m2_cloud_b = [(1.5,-.3),(1.9,0),(2.33,0),(2.33,-.9),(1.9,-.85),(1.6,-.55)]
c1m2_cloud_r = [(1.04,.2),(1.2,.25),(1.4,.15),(1.04,.1)]
c1m2_b = [
 [(1.115,.05),(1.15,.18),(1.38,.155),(1.67,.02),(1.86,-.15),(1.97,-.28),(2.12,-.48),(1.95,-.51),(1.84,-.46),(1.63,-.485),(1.495,-.39),(1.3,-.18),(1.17,-.02)],
 [(1.17,.035),(1.3,.155),(1.495,.075),(1.63,-.06),(1.73,-.27),(1.63,-.37),(1.46,-.26),(1.3,-.1)],
 [(1.2,.01),(1.3,.13),(1.44,.02),(1.58,-.16),(1.51,-.23),(1.36,-.14)]]
c1m2_r = [
 [(1.12,.13),(1.21,.18),(1.38,.13),(1.495,.02),(1.495,-.02),(1.36,-.1),(1.23,-.07),(1.12,.05)],
 [(1.21,.06),(1.3,.13),(1.45,.02),(1.44,-.06),(1.34,-.1),(1.26,-.045)],
 [(1.28,.02),(1.34,.06),(1.42,-.005),(1.38,-.06),(1.305,-.045)]]
c1m2_g = [
 [(1.19,.57),(1.24,.62),(1.33,.53),(1.43,.58),(1.52,.53),(1.62,.62),(1.67,.57),(1.52,.37),(1.33,.32),(1.28,.41)],
 [(1.33,.47),(1.42,.54),(1.52,.47),(1.42,.39)],
 [(1.37,.47),(1.42,.5),(1.47,.47),(1.42,.43)],
 [(1.76,.71),(1.81,.73),(1.9,.68),(1.81,.57),(1.86,.47),(1.81,.36),(1.71,.26),(1.62,.355),(1.76,.47),(1.81,.57)],
 [(1.67,.355),(1.71,.395),(1.76,.355),(1.71,.315)],
 [(1.45,.25),(1.52,.355),(1.71,.115),(1.71,.05),(1.63,-.02),(1.52,.115)],
 [(1.49,.25),(1.52,.3),(1.57,.25),(1.52,.195)],
 [(1.71,.155),(1.8,.2),(1.86,.155),(1.8,.1)],
 [(1.17,.035),(1.33,.235),(1.495,.1),(1.52,-.045),(1.33,-.27),(1.24,-.27),(1.14,-.16),(1.2,-.07)],
 [(1.19,.02),(1.33,.21),(1.465,.06),(1.4,-.1),(1.33,-.2),(1.19,-.19),(1.17,-.1)],
 [(1.23,.02),(1.33,.17),(1.43,.02),(1.33,-.125),(1.26,-.045)]]
c1m2_g_open = [[(1.59,.06),(1.62,.155),(1.66,.03)]]
c1m2_cells_g = [(1.33,-.03,.9),(1.33,.06,.6),(1.25,-.18,.35),(1.42,.47,.35),(1.33,-.15,.25),(1.42,-.03,.15),(1.23,.02,.2),(1.33,.45,.15),(1.52,.45,.15),(1.52,.25,.2),(1.71,.35,.15),(1.62,.1,.15),(1.62,.25,.06),(1.81,.55,.05),(1.23,.4,.05)]
c1m2_cells_b = [(1.525,-.165,.85),(1.63,-.27,.15),(1.42,-.15,.3),(1.6,-.2,.15),(1.45,-.25,.12)]
c1m2_cells_r = [(1.33,.03,.2),(1.25,.03,.12)]

# chi2-DL
c2dl_cloud_b = [(60,0),(90,.5),(130,.8),(300,.85),(340,.5),(340,-.3),(300,-.6),(100,-.5)]
c2dl_cloud_r = [(90,-.9),(330,-.9),(350,-.2),(80,-.2)]
c2dl_b = [
 [(76,.04),(127,.38),(186,.48),(245,.42),(304,.24),(329,.03),(312,-.2),(287,-.45),(253,-.6),(220,-.635),(152,-.61),(122,-.47),(93,-.22)],
 [(93,.04),(127,.2),(178,.3),(228,.28),(287,.13),(312,-.05),(287,-.26),(237,-.4),(186,-.42),(135,-.35),(102,-.15)],
 [(122,.04),(152,.13),(228,.14),(291,.04),(262,-.13),(194,-.2),(127,-.08)]]
c2dl_r = [
 [(89,-.01),(119,.22),(186,.32),(270,.3),(333,.1),(337,-.22),(300,-.61),(253,-.745),(148,-.756),(135,-.61),(89,-.31)],
 [(106,-.03),(144,.18),(220,.18),(296,.08),(308,-.1),(270,-.4),(249,-.57),(186,-.6),(165,-.47),(119,-.26)],
 [(127,-.06),(156,.04),(220,.09),(257,.04),(253,-.19),(220,-.39),(156,-.12)]]
c2dl_g = [
 [(22,.28),(41,.33),(89,.33),(131,.22),(198,.21),(253,.15),(346,.38),(371,.23),(371,.13),(414,.1),(436,-.07),(388,-.16),(312,-.37),(262,-.3),(312,-.17),(224,-.21),(173,-.29),(114,-.22),(89,-.01),(110,.17),(131,.22),(89,.22),(41,.22)],
 [(106,.04),(127,.2),(190,.18),(198,.08),(232,.04),(216,-.06),(232,-.15),(198,-.19),(114,-.18),(102,-.03)],
 [(122,-.01),(156,.17),(190,.1),(186,.01),(135,-.18)],
 [(262,.14),(338,.18),(393,.08),(388,.02),(329,.01),(253,-.06),(312,-.06),(312,-.125),(253,-.125)],
 [(338,-.07),(350,-.035),(363,-.07),(350,-.105)],
 [(384,-.035),(393,.02),(414,-.07),(393,-.125)],
 [(338,-.19),(355,-.15),(371,-.19),(355,-.24)],
 [(262,-.3),(304,-.24),(333,-.3),(304,-.37)],
 [(457,.24),(481,.32),(523,.33),(547,.28),(511,.16),(533,.1),(571,.04),(523,-.03),(481,-.03),(451,.06)],
 [(470,.13),(479,.28),(503,.13),(515,.06),(479,.01)],
 [(479,.04),(515,.07),(548,.04),(515,.01)],
 [(457,-.3),(479,-.24),(503,-.3),(479,-.41)]]
c2dl_g_open = [[(173,-.07),(216,-.07)]]
c2dl_cells_g = [(175,.15,1),(131,.02,.9),(175,.04,.9),(304,-.07,1),(304,-.3,1),(523,.04,1),(481,.16,.6),(350,.04,.45),(393,-.07,.4),(175,-.19,.6),(131,.15,.7),(346,.24,.35),(131,-.19,.4),(481,.28,.25),(523,.28,.25),(85,.28,.2),(481,-.3,.2),(481,-.42,.08),(131,.57,.1),(175,.57,.1),(219,.57,.1),(262,.57,.1),(350,.4,.1),(481,.62,.08),(523,.62,.08),(85,-.6,.07),(300,-.6,.05)]
c2dl_cells_r = [(220,-.47,.5),(204,-.3,.5),(237,-.3,.45),(220,-.2,.15),(186,-.45,.12),(253,-.45,.12),(186,-.6,.06),(220,-.6,.1),(270,-.1,.08)]
c2dl_cells_b = [(186,.35,.08),(220,.35,.08),(186,.45,.04),(150,.2,.05)]

# chi2-theta
c2th_cloud_b = [(0,-.9),(90,-.9),(90,.8),(0,.8)]
c2th_cloud_r = [(5,-.9),(70,-.9),(70,-.4),(10,-.4)]
c2th_b = [
 [(3.6,.08),(14.2,.25),(26,.51),(41,.5),(55.6,.33),(71.6,.16),(82,.06),(77,-.12),(69,-.26),(58,-.54),(45,-.64),(33.6,-.67),(18,-.61),(7.6,-.38)],
 [(9,.06),(18,.15),(26,.31),(41,.32),(54,.26),(66,-.01),(63.6,-.19),(47.6,-.4),(34,-.45),(26,-.42),(15.6,-.26)],
 [(16,.03),(23.6,.13),(34,.17),(47.6,.14),(56,.04),(51.6,-.1),(41,-.22),(26,-.17),(18,-.08)],
 [(28,.05),(34,.09),(39,.06),(35.6,.01)]]
c2th_r = [
 [(3.6,.1),(14.2,.26),(19,.33),(41,.28),(58,.15),(65,-.13),(75,-.29),(63.6,-.44),(59.6,-.61),(55.6,-.7),(26,-.756),(15.6,-.64),(7.6,-.38),(5,-.1)],
 [(8,.04),(17,.1),(26,.17),(45,.06),(58,-.01),(59.6,-.29),(50,-.47),(42,-.53),(26,-.54),(16,-.4)],
 [(18,-.06),(21,.03),(31.6,.08),(43.6,.02),(46,-.1),(45,-.35),(41.6,-.35),(25,-.22)]]
c2th_g = [
 [(23.6,.68),(28,.8),(33,.68),(28,.54)],
 [(26,.68),(28,.76),(30.6,.68),(28,.585)],
 [(39,.38),(42,.44),(45.6,.38),(42,.28)],
 [(52.6,.28),(56,.38),(60,.28),(56,.16)],
 [(7.6,.04),(14.2,.12),(18,.03),(13.6,-.03)],
 [(11,.04),(14.2,.08),(17,.03),(14,0)],
 [(25,-.29),(31.6,-.125),(41.6,-.29),(28,-.355)],
 [(31.6,-.17),(35,-.15),(37.6,-.18),(35,-.245)],
 [(28,.04),(34,.08),(39,.03),(34,0)],
 [(39.6,-.08),(45,-.01),(56,-.08),(45,-.1)],
 [(63.6,-.19),(71,.12),(83.6,-.07),(71,-.24)],
 [(67,.06),(70,.08),(73.6,.05),(70.3,-.07)]]
c2th_g_open = [
 [(25,.26),(28,.32),(42,.28),(55.6,.16),(56,.01),(61,-.1),(50,-.31)],
 [(0,.16),(7,.16),(14.2,.28),(21.6,.16),(21,.06),(14.2,-.03),(7,-.07),(0,-.07)],
 [(0,.1),(7,.1),(7.6,.05)],
 [(0,-.05),(7,-.05),(11,-.19),(7,-.24),(0,-.24)],
 [(23.6,.04),(35,.16),(45,.13),(39.6,.01),(46,.04),(57,-.06),(54,-.125),(42,-.28),(45,-.35),(57,-.35),(60,-.3),(54,-.17)],
 [(90,.1),(86,.1),(77,.16),(86,.22),(90,.22)]]
c2th_cells_g = [(34,.04,1),(42,-.08,.6),(14,.04,.4),(28,.68,.25),(49,-.08,.35),(42,.15,.2),(56,.1,.15),(70,-.05,.15),(77,-.1,.1),(35,-.2,.1),(49,-.2,.15),(42,.38,.1)]
c2th_cells_r = [(24,-.08,1),(31,-.13,.9),(19,-.22,.5),(41,-.3,.6),(26,-.3,.3),(33,-.42,.25),(26,-.42,.2),(45,-.42,.2),(19,-.1,.6),(26,-.2,.6),(31,-.2,.55),(36,-.13,.7),(36,-.3,.35),(31,-.3,.35),(46,-.3,.45),(41,-.42,.25),(52,-.3,.2),(55,-.42,.06)]
c2th_cells_b = [(26,.38,.08),(33,.38,.08),(40,.38,.06),(52,.2,.08),(33,.25,.1)]

# chi2-m1
c2m1_cloud_b = [(2.34,-.8),(4,-.9),(4.5,.3),(4,.85),(2.7,.85),(2.34,.4)]
c2m1_cloud_r = [(3.4,-.9),(5.5,-.9),(5.97,-.3),(5.9,.3),(5,.8),(4.2,.5),(3.7,-.5)]
c2m1_b = [
 [(2.34,-.59),(3.07,-.62),(3.39,-.56),(4,-.54),(4.39,-.47),(4.62,-.29),(4.89,.02),(4.67,.2),(4.17,.38),(3.69,.55),(3.39,.5),(3.07,.06),(2.77,.21),(2.34,.2)],
 [(2.34,.06),(2.52,-.07),(2.77,-.16),(3.07,-.15),(3.39,-.22),(3.67,-.44),(4,-.43),(4.53,-.45),(4.64,-.1),(4.69,.06),(4.44,.23),(4.05,.33),(3.69,.42),(3.39,.32),(3.07,0)],
 [(3.39,.06),(3.69,.19),(4,.18),(4.39,.06),(4.39,-.1),(4.03,-.23),(3.72,-.16),(3.55,-.06)]]
c2m1_r = [
 [(3.64,-.38),(3.69,-.29),(4.28,.23),(4.72,.4),(5.0,.17),(5.32,.02),(5.08,-.29),(5.08,-.45),(4.94,-.6),(4.72,-.72),(4.49,-.756),(4.22,-.69),(3.77,-.62),(3.69,-.47)],
 [(3.83,-.29),(4,-.09),(4.22,.14),(4.49,.21),(4.86,.01),(4.78,-.21),(4.64,-.4),(4.49,-.56),(4.28,-.47),(3.89,-.44)],
 [(4.03,-.29),(4.11,.01),(4.28,.15),(4.61,.08),(4.64,-.06),(4.5,-.26),(4.28,-.35)]]
c2m1_g = [
 [(3.05,.61),(3.19,.79),(3.44,.79),(3.56,.72),(3.56,.61),(3.41,.5),(3.19,.5)],
 [(3.19,.05),(3.44,.19),(3.69,.21),(3.97,.16),(4.44,.04),(4.19,-.06),(3.66,-.08),(3.39,-.01)],
 [(3.33,.05),(3.44,.13),(3.51,.05),(3.41,.02)],
 [(3.62,-.06),(3.67,.16),(3.97,.13),(4.39,.05),(3.97,-.01),(3.89,-.06)],
 [(4.11,.01),(4.28,.1),(4.42,.04),(4.25,-.03)],
 [(2.9,-.07),(3.16,-.03),(3.32,-.07),(3.16,-.11)],
 [(4.07,-.3),(4.2,-.25),(4.33,-.3),(4.2,-.355)]]
c2m1_g_open = [
 [(2.79,.28),(2.8,.39),(2.95,.44),(3.19,.38),(3.19,.22),(3.44,.1),(3.19,0)],
 [(2.34,.22),(2.52,.24),(2.77,.22),(2.94,.16),(3.19,.22)],
 [(2.34,.16),(2.52,.2),(2.77,.16),(2.91,.05),(2.66,-.05),(2.38,-.01),(2.34,.05)],
 [(2.34,-.19),(2.38,-.29),(2.66,-.3),(2.91,-.18),(3.33,-.18),(3.61,-.1),(3.94,-.01),(4.22,-.03)],
 [(2.34,-.33),(2.38,-.36),(3.19,-.36),(3.72,-.17),(3.89,-.06)]]
c2m1_cells_g = [(2.66,.04,1),(2.66,.16,.45),(3.16,-.07,.2),(2.66,-.2,.2),(3.4,.65,.08),(3.15,.65,.08),(2.9,.3,.1),(2.9,.04,.15),(3.15,.04,.1),(3.7,.05,.15),(3.95,.05,.15),(2.9,-.2,.1),(3.15,-.2,.1)]
c2m1_cells_r = [(4.25,-.11,1),(4.5,.04,.75),(4.25,.04,.6),(4.5,-.11,.45),(4.05,-.26,.25),(4.25,-.26,.25),(4.5,-.26,.2),(4.05,-.11,.3),(4.05,.04,.2),(4.7,.04,.15),(4.7,-.1,.1),(4.5,-.42,.08),(4.25,-.42,.08)]
c2m1_cells_b = [(3.7,.28,.2),(3.95,.28,.2),(3.45,.28,.08),(3.7,.42,.04),(3.2,-.4,.03),(2.9,-.45,.03),(2.6,-.45,.03)]

# chi2-m2
c2m2_cloud_b = [(1.3,-.7),(2.33,-.9),(2.33,-.15),(2,-.1),(1.7,.9),(1.2,.9)]
c2m2_cloud_r = [(1.04,0),(1.15,.9),(1.3,.7),(1.35,-.9),(1.15,-.9)]
c2m2_b = [
 [(1.17,-.08),(1.21,.17),(1.37,.38),(1.53,.61),(1.71,.38),(1.75,.21),(1.84,.16),(1.96,.18),(2.2,.08),(2.16,-.13),(2.05,-.29),(1.93,-.33),(1.87,-.42),(1.83,-.59),(1.74,-.62),(1.53,-.59),(1.31,-.64),(1.21,-.38)],
 [(1.2,-.02),(1.29,.17),(1.37,.31),(1.52,.47),(1.64,.35),(1.72,.12),(1.72,-.06),(1.6,-.24),(1.58,-.42),(1.52,-.5),(1.33,-.46),(1.24,-.38),(1.2,-.2)],
 [(1.27,-.01),(1.34,.13),(1.41,.19),(1.53,.2),(1.65,.05),(1.58,-.11),(1.49,-.21),(1.4,-.28),(1.33,-.19),(1.28,-.08)],
 [(1.79,-.1),(1.86,.06),(1.95,.08),(1.99,.05),(1.92,-.01),(1.84,-.15)]]
c2m2_r = [
 [(1.11,.02),(1.23,.44),(1.31,.17),(1.46,-.19),(1.51,-.42),(1.46,-.59),(1.29,-.756),(1.19,-.61),(1.17,-.29)],
 [(1.19,-.1),(1.29,.2),(1.39,.08),(1.47,-.29),(1.41,-.45),(1.33,-.47),(1.29,-.57),(1.22,-.4)],
 [(1.26,-.08),(1.29,.1),(1.36,.11),(1.44,-.11),(1.45,-.27),(1.35,-.29),(1.29,-.16)]]
c2m2_g = [
 [(1.28,.7),(1.33,.79),(1.38,.7),(1.38,.61),(1.33,.5),(1.28,.61)],
 [(1.52,.7),(1.62,.79),(1.66,.72),(1.66,.61),(1.62,.55),(1.52,.62)],
 [(1.2,.04),(1.29,.23),(1.4,.08),(1.44,-.08),(1.41,-.29),(1.29,-.22),(1.2,-.1)],
 [(1.29,.1),(1.33,.2),(1.38,.1),(1.43,-.06),(1.33,-.11)],
 [(1.56,.16),(1.62,.26),(1.66,.16),(1.62,.12)],
 [(1.6,.05),(1.62,.07),(1.65,.04),(1.62,-.01)],
 [(1.68,.05),(1.73,.1),(1.84,.01),(1.95,-.07),(1.86,-.22),(1.81,-.3),(1.73,-.04)],
 [(1.5,-.24),(1.62,-.19),(1.66,-.3),(1.62,-.36),(1.5,-.29)],
 [(1.4,-.07),(1.43,-.01),(1.46,-.07),(1.43,-.11)],
 [(2.13,.04),(2.18,.12),(2.28,.12),(2.33,.04),(2.28,-.03),(2.18,-.03)],
 [(2.16,.04),(2.2,.07),(2.25,.07),(2.27,.04),(2.2,.01)]]
c2m2_g_open = [
 [(1.04,.1),(1.15,.1),(1.31,.33),(1.43,.44),(1.47,.38),(1.4,.28),(1.52,.06),(1.45,-.1)],
 [(1.04,-.01),(1.15,-.01),(1.23,-.08),(1.14,-.18),(1.29,-.24),(1.43,-.35),(1.49,-.26),(1.49,-.16),(1.72,-.08)],
 [(1.04,-.125),(1.14,-.125)],
 [(1.04,-.24),(1.15,-.24),(1.23,-.22),(1.34,-.08)],
 [(1.17,.04),(1.29,.3),(1.37,.16),(1.52,.04),(1.43,.01),(1.45,-.1)]]
c2m2_cells_g = [(1.33,.16,1),(1.33,-.07,.75),(1.33,.04,.35),(1.23,.04,.4),(1.43,.04,.2),(1.62,.04,.2),(1.82,-.07,.2),(1.33,-.2,.2),(1.43,-.2,.15),(1.33,.65,.08),(1.62,.65,.08),(2.23,.04,.1),(1.23,-.1,.25),(1.72,-.07,.1)]
c2m2_cells_b = [(1.53,.28,.2),(1.42,.28,.15),(1.6,.28,.15),(1.53,.42,.05)]
c2m2_cells_r = [(1.33,-.42,.1),(1.25,-.3,.12),(1.4,-.3,.08)]

# chi2-chi1
c2c1_cloud_b = [(-.9,.45),(-.5,.9),(-.1,.9),(0,.4),(.1,-.2),(.1,-.7),(-.1,-.7),(-.5,0)]
c2c1_cloud_r = [(-.05,.8),(.1,.6),(.2,-.2),(.3,-.9),(.1,-.95),(0,-.75),(.1,0),(-.05,.4)]
c2c1_b = [
 [(-.565,.05),(-.4,.22),(-.4,.45),(-.275,.47),(.01,.23),(.12,-.04),(.13,-.59),(.03,-.71),(-.076,-.64),(-.275,-.34)],
 [(-.35,.05),(-.335,.22),(-.275,.32),(-.17,.3),(-.02,.19),(.09,.01),(.09,-.45),(.03,-.59),(-.1,-.42),(-.26,-.04)],
 [(-.26,.07),(-.18,.19),(-.03,.15),(.06,-.015),(.03,-.31),(0,-.37),(-.17,-.12)]]
c2c1_r = [
 [(-.11,.15),(-.076,.27),(0,.29),(.09,.01),(.17,-.78),(.03,-.64),(-.06,-.31),(-.11,-.04)],
 [(-.11,-.015),(-.076,.12),(.02,.16),(.09,-.04),(.09,-.42),(.046,-.53),(-.03,-.37),(-.076,-.18)],
 [(-.076,-.015),(-.03,.05),(.01,-.04),(.01,-.29),(-.03,-.18)]]
c2c1_g = [
 [(-.43,.05),(-.35,.11),(-.18,.21),(-.06,.38),(.05,.27),(.14,.27),(.26,.34),(.32,.27),(.21,.22),(.23,.11),(.35,.11),(.46,.25),(.58,.15),(.58,.05),(.69,.1),(.8,.04),(.87,.15),(.93,.15),(.93,-.01),(.87,-.01),(.8,.04),(.62,-.1),(.58,-.18),(.43,-.14),(.43,-.29),(.37,-.36),(.3,-.28),(.2,-.31),(.05,-.41),(-.17,-.26),(-.24,-.18),(-.14,-.15),(-.06,-.015),(-.26,-.04),(-.39,-.04)],
 [(.2,.27),(.25,.33),(.32,.27),(.25,.22)],
 [(.35,.09),(.46,.23),(.56,.15),(.56,.05),(.46,-.06),(.35,.05)],
 [(.4,.09),(.46,.19),(.52,.09),(.46,-.03)],
 [(-.17,-.18),(-.06,-.14),(.04,-.18),(-.06,-.22)],
 [(.08,-.07),(.14,.04),(.23,-.07),(.14,-.14)]]
c2c1_g_open = [[(-.09,-.015),(0,.15),(.14,.18),(.06,.11),(-.01,.01)]]
c2c1_cells_g = [(.46,.05,1),(.14,-.07,1),(.46,.13,.4),(.03,-.29,.45),(.35,-.18,.15),(-.24,.05,.1),(.25,.05,.15),(.14,.05,.2),(.25,-.07,.15),(.6,.05,.1),(.8,.05,.1),(.25,.27,.15),(.5,.4,.04),(.7,.5,.04),(.35,-.6,.05),(.35,-.28,.1),(-.06,-.15,.2)]
c2c1_cells_b = [(-.275,.19,.3),(-.3,.0,.06),(-.17,-.2,.06),(-.4,.05,.05),(-.1,.08,.1)]
c2c1_cells_r = [(0,-.05,.15),(.05,-.3,.1),(.07,-.6,.06)]

panels = [
 (1,0,thdl_cloud_b,thdl_cloud_r,thdl_b,thdl_r,thdl_g,thdl_g_open,thdl_cells_b,thdl_cells_r,thdl_cells_g),
 (2,0,m1dl_cloud_b,m1dl_cloud_r,m1dl_b,m1dl_r,m1dl_g,m1dl_g_open,m1dl_cells_b,m1dl_cells_r,m1dl_cells_g),
 (2,1,m1th_cloud_b,m1th_cloud_r,m1th_b,m1th_r,m1th_g,m1th_g_open,m1th_cells_b,m1th_cells_r,m1th_cells_g),
 (3,0,m2dl_cloud_b,m2dl_cloud_r,m2dl_b,m2dl_r,m2dl_g,m2dl_g_open,m2dl_cells_b,m2dl_cells_r,m2dl_cells_g),
 (3,1,m2th_cloud_b,m2th_cloud_r,m2th_b,m2th_r,m2th_g,m2th_g_open,m2th_cells_b,m2th_cells_r,m2th_cells_g),
 (3,2,None,None,m2m1_b,m2m1_r,m2m1_g,m2m1_g_open,m2m1_cells_b,m2m1_cells_r,m2m1_cells_g),
 (4,0,c1dl_cloud_b,c1dl_cloud_r,c1dl_b,c1dl_r,c1dl_g,c1dl_g_open,c1dl_cells_b,c1dl_cells_r,c1dl_cells_g),
 (4,1,c1th_cloud_b,c1th_cloud_r,c1th_b,c1th_r,c1th_g,c1th_g_open,c1th_cells_b,c1th_cells_r,c1th_cells_g),
 (4,2,c1m1_cloud_b,c1m1_cloud_r,c1m1_b,c1m1_r,c1m1_g,c1m1_g_open,c1m1_cells_b,c1m1_cells_r,c1m1_cells_g),
 (4,3,c1m2_cloud_b,c1m2_cloud_r,c1m2_b,c1m2_r,c1m2_g,c1m2_g_open,c1m2_cells_b,c1m2_cells_r,c1m2_cells_g),
 (5,0,c2dl_cloud_b,c2dl_cloud_r,c2dl_b,c2dl_r,c2dl_g,c2dl_g_open,c2dl_cells_b,c2dl_cells_r,c2dl_cells_g),
 (5,1,c2th_cloud_b,c2th_cloud_r,c2th_b,c2th_r,c2th_g,c2th_g_open,c2th_cells_b,c2th_cells_r,c2th_cells_g),
 (5,2,c2m1_cloud_b,c2m1_cloud_r,c2m1_b,c2m1_r,c2m1_g,c2m1_g_open,c2m1_cells_b,c2m1_cells_r,c2m1_cells_g),
 (5,3,c2m2_cloud_b,c2m2_cloud_r,c2m2_b,c2m2_r,c2m2_g,c2m2_g_open,c2m2_cells_b,c2m2_cells_r,c2m2_cells_g),
 (5,4,c2c1_cloud_b,c2c1_cloud_r,c2c1_b,c2c1_r,c2c1_g,c2c1_g_open,c2c1_cells_b,c2c1_cells_r,c2c1_cells_g),
]
diagonals = [
 (dl_x_b,dl_b,dl_x_r,dl_r,dl_x_g,dl_g),(th_x_b,th_b,th_x_r,th_r,th_x_g,th_g),(m1_x_b,m1_b,m1_x_r,m1_r,m1_x_g,m1_g),
 (m2_x_b,m2_b,m2_x_r,m2_r,m2_x_g,m2_g),(c1_x_b,c1_b,c1_x_r,c1_r,c1_x_g,c1_g),(c2_x_b,c2_b,c2_x_r,c2_r,c2_x_g,c2_g)]

lims = [dl_lim, th_lim, m1_lim, m2_lim, c1_lim, c2_lim]
# labelled ticks (bottom row / first column), plain ticks for the inner panels
major = [[150,300,450],[25,50,75],[3,4,5],[1.2,1.6,2.0],[-.5,0,.5],[-.5,0,.5]]
inner = [[150,300,450],[20,40,60,80],[2.4,3.2,4.0,4.8,5.6],[1.2,1.5,1.8,2.1],[-.8,-.4,0,.4,.8],[-.8,-.4,0,.4,.8]]
last_x = [-.6,0,.6]

W, H = 2042, 2049
fig = plt.figure(figsize=(W/100, H/100), dpi=100)
plt.rcParams["hatch.linewidth"] = 0.4


def panel_axes(r, c):
    return fig.add_axes([(150 + 309.4*c)/W, 1 - (72 + 308*r + 279)/H, 259/W, 279/H])


def ramp(col):
    return LinearSegmentedColormap.from_list("r", [(*col, 0), (*col, 1)])


def cells(ax, data, col, bins, r, c):
    xs = [d[0] for d in data]
    ys = [d[1] for d in data]
    ws = [d[2] for d in data]
    ax.hist2d(xs, ys, weights=ws, bins=bins, range=[lims[c], lims[r]], cmap=ramp(col), vmin=0, vmax=1)


BLUE, RED, GREEN = (0, 0, 1), (1, 0, 0), (0, .5, 0)

for r, c, cl_b, cl_r, con_b, con_r, con_g, open_g, hb, hr, hg in panels:
    ax = panel_axes(r, c)
    if cl_b:
        # the sample clouds, as faint dotted areas
        ax.fill(*zip(*cl_b), facecolor="none", edgecolor=(0, 0, 1, .16), hatch="...", lw=0)
        ax.fill(*zip(*cl_r), facecolor="none", edgecolor=(.6, .1, .5, .14), hatch="..", lw=0)
    else:
        ax.plot(*zip(*m2m1_tail), color=(.7, .2, .55), lw=3, alpha=.7)
    cells(ax, hb, BLUE, 17, r, c)
    cells(ax, hr, RED, 17, r, c)
    cells(ax, hg, GREEN, 13, r, c)
    for pts in con_b:
        ax.plot(*zip(*(pts + pts[:1])), color="blue", lw=1.7)
    for pts in con_r:
        ax.plot(*zip(*(pts + pts[:1])), color="red", lw=1.7)
    for pts in con_g:
        ax.plot(*zip(*(pts + pts[:1])), color="green", lw=1.7)
    for pts in open_g:
        ax.plot(*zip(*pts), color="green", lw=1.7)
    ax.set_xlim(lims[c])
    ax.set_ylim(lims[r])
    if r == 5:
        ax.set_xticks(major[c])
        ax.set_xticklabels([str(t) for t in major[c]], rotation=45, fontsize=25)
        ax.set_xlabel(names[c], fontsize=44.5)
        ax.xaxis.set_label_coords(.5, -.3)
    else:
        ax.set_xticks(inner[c])
        ax.set_xticklabels([])
    if c == 0:
        ax.set_yticks(major[r])
        lab = [("\u2212" if t < 0 else "") + str(abs(t)) if r >= 4 else str(t) for t in major[r]]
        lab = [s + ".0" if r >= 4 and s[-1] == "0" and "." not in s else s for s in lab]
        ax.set_yticklabels(lab, rotation=45, fontsize=25)
        ax.set_ylabel(names[r], fontsize=44)
        ax.yaxis.set_label_coords(-.31, .5)
    else:
        ax.set_yticks(inner[r])
        ax.set_yticklabels([])
    if r == 5:
        lab = [("\u2212" if t < 0 else "") + ("0.0" if t == 0 else str(abs(t))) for t in major[c]] if c == 4 else None
        if lab:
            ax.set_xticklabels(lab, rotation=45, fontsize=25)

for i, (xb, yb, xr, yr, xg, yg) in enumerate(diagonals):
    ax = panel_axes(i, i)
    ax.plot(xb, yb, color="blue", lw=1.6)
    ax.plot(xr, yr, color="red", lw=1.6)
    ax.plot(xg, yg, color="green", lw=1.6)
    ax.set_ylim(0, 100)
    ax.set_yticks([])
    span = xb[-1] - xb[0]
    ax.set_xlim(xb[0] - .05*span, xb[-1] + .05*span)
    if i == 5:
        ax.set_xticks(last_x)
        ax.set_xticklabels(["\u22120.6", "0.0", "0.6"], rotation=45, fontsize=25)
        ax.set_xlabel(names[5], fontsize=44.5)
        ax.xaxis.set_label_coords(.5, -.3)
    else:
        ax.set_xticks([])
    m, up, lo = titles[i]
    ax.set_title(f"{m} $^{{+{up}}}_{{-{lo}}}$", color="blue", fontsize=35, pad=3)

handles = [Line2D([], [], color="blue", lw=1.5), Line2D([], [], color="red", lw=1.5), Line2D([], [], color="green", lw=1.5)]
fig.legend(handles, ["BBH posterior", "BBH posterior with KN", "LVK O4 mgNSBH with KN"], fontsize=30,
           loc="upper right", bbox_to_anchor=(2034/W, 1 - 47/H), borderaxespad=0)

fig.savefig("out.png", dpi=100)
